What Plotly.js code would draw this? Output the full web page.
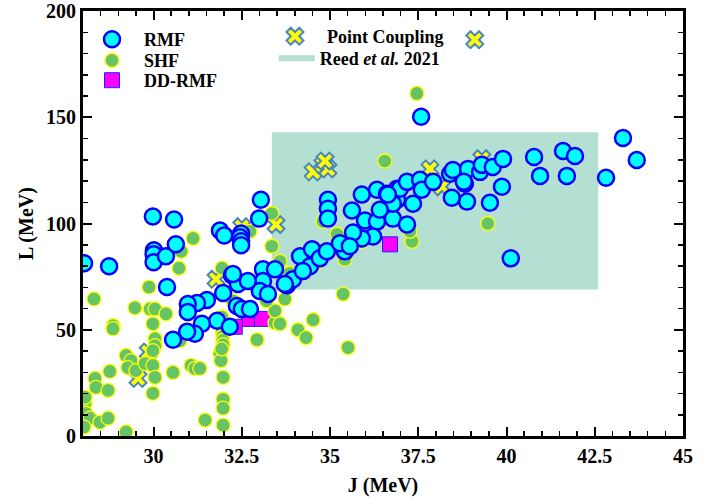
<!DOCTYPE html>
<html>
<head>
<meta charset="utf-8">
<script src="https://cdn.plot.ly/plotly-3.0.1.min.js"></script>
<style>body{margin:0;padding:0;background:#fff;}#chart{width:723px;height:504px;}</style>
</head>
<body>
<div id="chart"></div>
<script>
// RMF models
const rmfJ = [28.03,28.74,29.98,30.58,30.01,30.0,30.0,30.35,30.63,30.38,31.88,32.0,32.48,32.45,32.48,32.48,33.04,32.99,32.22,32.39,31.97,31.51,31.23,30.97,30.97,32.36,32.5,32.73,31.8,32.16,31.37,31.17,30.95,30.55,33.1,33.44,33.1,33.01,33.24,33.78,33.95,34.15,34.49,34.43,34.71,34.91,34.23,33.72,32.67,32.25,34.94,34.94,34.94,35.62,35.9,36.33,36.61,36.9,36.9,36.78,35.99,36.33,36.22,35.9,35.65,35.42,35.28,35.56,36.98,37.18,37.55,37.6,37.92,37.35,36.78,36.64,36.41,37.18,38.4,38.48,38.82,38.91,39.25,39.3,39.61,39.9,39.87,39.53,38.88,38.45,38.79,40.78,40.95,41.6,41.94,41.71,42.82,43.3,43.69,40.12,37.58];
const rmfL = [81.3,79.9,103.3,101.9,87.4,85.5,81.8,84.6,90.2,70.1,96.7,94.4,95.3,93.5,91.6,89.8,111.2,102.3,75.7,71.5,67.3,64.0,62.6,62.1,58.4,61.2,59.8,59.8,54.2,51.4,52.8,48.1,49.1,45.3,78.5,78.5,72.9,68.2,66.8,71.0,73.8,84.6,87.9,79.9,83.6,86.9,77.6,71.5,72.9,76.2,111.2,107.0,102.3,106.1,113.6,115.9,114.0,116.4,111.2,102.3,101.4,100.9,93.9,93.0,95.8,86.9,90.7,89.3,116.4,119.6,120.6,115.9,119.6,109.3,109.3,113.6,106.5,99.5,123.4,125.2,118.7,125.7,124.3,127.6,126.6,130.4,117.3,109.8,110.3,112.1,119.6,131.3,122.4,134.1,131.8,122.4,121.5,140.2,129.9,83.6,150.2];

// SHF (Skyrme) models
const shfJ = [28.31,28.85,28.85,29.47,29.9,30.04,30.35,29.98,30.04,30.04,30.75,29.22,29.36,29.27,29.5,29.76,29.98,29.98,30.04,29.98,30.55,31.06,31.17,28.76,28.34,28.37,28.71,28.06,28.08,28.2,28.48,28.71,29.22,28.06,28.03,31.88,31.91,31.97,31.97,31.97,31.97,31.46,31.93,31.95,31.95,31.95,31.96,31.96,31.97,31.93,32.93,33.44,33.58,33.44,34.09,34.32,34.52,35.51,31.31,33.35,33.35,32.73,34.8,35.37,33.72,33.2,32.25,35.2,31.12,30.78,30.72,29.87,31.94,33.58,37.46,36.55,37.32,37.26,39.47,33.86,34.6,35.42,35.9];
const shfL = [64.5,51.9,50.5,60.3,59.8,59.8,57.5,52.8,45.8,42.5,44.9,37.9,35.5,32.2,30.8,34.1,40.2,33.2,27.6,20.1,29.9,33.2,31.8,30.4,27.1,22.9,21.5,15.4,10.7,8.4,6.5,8.4,1.9,18.2,4.2,38.8,35.5,27.6,17.3,13.1,5.1,7.5,56,53,51,49,47,45,43,41,45.3,53.3,52.8,58.9,50.0,46.3,54.7,41.6,31.8,104.7,89.3,96.3,101,66.8,64.5,63.6,63.6,94.9,93.0,86.9,79.0,70.1,79.0,82.2,161.2,129.4,91.6,96.3,100,76.6,81.3,83.2,91.6];

// DD-RMF models
const ddJ = [36.7,32.7,33.07,32.3];
const ddL = [90.2,55.1,55.1,51.4];

// Point coupling models
const pcJ = [34.52,34.8,34.94,34.86,37.83,39.3,31.77,33.47,32.5,29.56,29.85,38.17,39.1];
const pcL = [124.3,127.6,125.7,129.4,125.7,130.5,73.8,99.5,98.5,27.1,39.5,117.3,186.5];

// Reed et al. 2021 constraint box
const reedJ = [33.35,42.6,42.6,33.35,33.35];
const reedL = [69,69,143,143,69];

// axis ticks
const xTicks = [30,32.5,35,37.5,40,42.5,45];
const yTicks = [0,50,100,150,200];

const FF = 'Liberation Serif';
const bold = (s) => ({family: FF, size: s, color: '#000', weight: 700});

const traces = [
  {x: reedJ, y: reedL, type: 'scatter', mode: 'none', fill: 'toself', fillcolor: '#b3e0d3',
   name: 'Reed <i>et al.</i> 2021', legend: 'legend5', hoverinfo: 'skip'},
  {x: ddJ, y: ddL, type: 'scatter', mode: 'markers', name: 'DD-RMF', legend: 'legend3',
   marker: {symbol: 'square', size: 15, color: '#ff00ff', line: {color: '#2020ff', width: 1}}},
  {x: pcJ, y: pcL, type: 'scatter', mode: 'markers', name: 'Point Coupling', legend: 'legend4',
   marker: {symbol: 'x', size: 15, color: '#ffff00', line: {color: '#4a86c0', width: 2}}},
  {x: shfJ, y: shfL, type: 'scatter', mode: 'markers', name: 'SHF', legend: 'legend2',
   marker: {symbol: 'circle', size: 14, color: '#66c466', line: {color: '#ffff00', width: 1.3}}},
  {x: rmfJ, y: rmfL, type: 'scatter', mode: 'markers', name: 'RMF', legend: 'legend',
   marker: {symbol: 'circle', size: 16, color: '#00ffff', line: {color: '#0000ff', width: 2.5}}}
];

const axisCommon = {
  showline: true, linewidth: 3, linecolor: '#000', mirror: 'ticks',
  ticks: 'inside', ticklen: 9, tickwidth: 2, tickcolor: '#000',
  showgrid: false, zeroline: false, tickfont: bold(20), ticklabeloverflow: 'allow'
};

const legBase = (x, y, w) => ({x: x, y: y, xanchor: 'left', yanchor: 'top', bgcolor: 'rgba(0,0,0,0)',
  font: bold(18), itemwidth: w, tracegroupgap: 0});

const layout = {
  width: 723, height: 504,
  margin: {l: 83, r: 40, t: 11, b: 68},
  paper_bgcolor: '#fff', plot_bgcolor: '#fff',
  showlegend: true,
  xaxis: Object.assign({}, axisCommon, {
    range: [28, 45], tickmode: 'array', tickvals: xTicks, ticktext: xTicks.map(String),
    minor: {dtick: 0.5, tick0: 28, ticks: 'inside', ticklen: 5, tickwidth: 1.5, tickcolor: '#000'},
    title: {text: 'J (MeV)', font: bold(20), standoff: 12}
  }),
  yaxis: Object.assign({}, axisCommon, {
    range: [0, 200], tickmode: 'array', tickvals: yTicks, ticktext: yTicks.map(String),
    minor: {dtick: 10, tick0: 0, ticks: 'inside', ticklen: 5, tickwidth: 1.5, tickcolor: '#000'},
    title: {text: 'L (MeV)', font: bold(20), standoff: 8}
  }),
  legend: legBase(-0.005, 0.9765, 54),
  legend2: legBase(-0.005, 0.927, 54),
  legend3: legBase(-0.005, 0.88, 54),
  legend4: legBase(0.30, 0.9835, 54),
  legend5: legBase(0.318, 0.9318, 36)
};

Plotly.newPlot('chart', traces, layout, {displayModeBar: false, staticPlot: true});
</script>
</body>
</html>
